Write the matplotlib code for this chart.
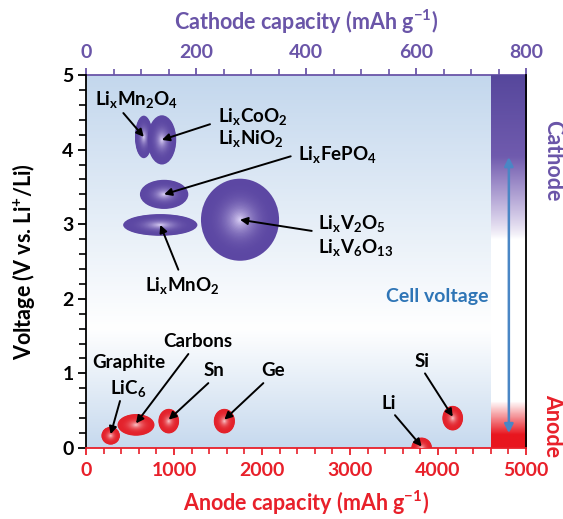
import numpy as np
import matplotlib.pyplot as plt
from matplotlib.patches import Ellipse
from matplotlib.colors import to_rgb
from matplotlib.ticker import MultipleLocator

plt.rcParams['font.family'] = ['Lato', 'DejaVu Sans']
plt.rcParams['font.weight'] = 'bold'
plt.rcParams['mathtext.fontset'] = 'custom'
plt.rcParams['mathtext.rm'] = 'Lato:bold'
plt.rcParams['mathtext.it'] = 'Lato:bold'
plt.rcParams['mathtext.bf'] = 'Lato:bold'
plt.rcParams['mathtext.default'] = 'rm'

# ---------------------------------------------------------
# data
# ---------------------------------------------------------
# cathodes: capacity in mAh/g (top axis), voltage in V
cath_names = ['LiMn2O4', 'LiCoO2', 'LiFePO4', 'LiMnO2', 'LiV2O5']
cath_cap = [105, 138, 142, 135, 280]
cath_volt = [4.17, 4.13, 3.40, 2.99, 3.06]
cath_dcap = [32, 52, 88, 135, 142]
cath_dvolt = [0.57, 0.66, 0.39, 0.29, 1.10]

# anodes: capacity in mAh/g (bottom axis), voltage in V
an_names = ['Graphite', 'Carbons', 'Sn', 'Ge', 'Li', 'Si']
an_cap = [280, 568, 940, 1572, 3814, 4167]
an_volt = [0.165, 0.31, 0.36, 0.36, 0.0, 0.40]
an_dcap = [210, 420, 235, 240, 235, 235]
an_dvolt = [0.24, 0.29, 0.33, 0.33, 0.28, 0.33]

# labels: (text, x, y, ha) in anode-axis units
cath_labels = [('Li$_x$Mn$_2$O$_4$', 576, 4.60, 'center'),
               ('Li$_x$CoO$_2$', 1504, 4.37, 'left'),
               ('Li$_x$NiO$_2$', 1504, 4.08, 'left'),
               ('Li$_x$FePO$_4$', 2413, 3.86, 'left'),
               ('Li$_x$MnO$_2$', 1094, 2.10, 'center'),
               ('Li$_x$V$_2$O$_5$', 2640, 2.94, 'left'),
               ('Li$_x$V$_6$O$_{13}$', 2640, 2.61, 'left')]
# arrow tails for each cathode (same order as cath_names)
cath_tail_x = [424, 1409, 2326, 1049, 2565]
cath_tail_y = [4.49, 4.34, 3.91, 2.39, 2.91]

an_labels = [('Graphite', 489, 1.07), ('LiC$_6$', 481, 0.72),
             ('Carbons', 1265, 1.35), ('Sn', 1458, 0.97),
             ('Ge', 2129, 0.97), ('Li', 3443, 0.52), ('Si', 3814, 1.08)]
an_tail_x = [386, 1163, 1390, 2015, 3511, 3852]
an_tail_y = [0.63, 1.26, 0.87, 0.87, 0.44, 1.00]

scale = 5000 / 800  # anode units per cathode unit

purple = '#6a55a8'
red = '#e8202a'
blue = '#2e75b6'
fw = 'bold'


def shaded_ellipse(ax, x, y, w, h, base, light, n=30):
    b = np.array(to_rgb(base))
    l = np.array(to_rgb(light))
    for i in range(n):
        s = 1 - i / n
        t = (1 - s) ** 2.8
        c = b * (1 - t) + l * t
        ax.add_patch(Ellipse((x, y), w * s, h * s, facecolor=c,
                             edgecolor='none', zorder=3))


fig = plt.figure(figsize=(5.63, 5.19), dpi=100)
ax = fig.add_axes([0.1528, 0.1368, 0.7815, 0.7187])
ax.set_xlim(0, 5000)
ax.set_ylim(0, 5)

# background gradient
yy = np.linspace(0, 5, 300)
top_c = np.array(to_rgb('#c3d7ed'))
white = np.ones(3)
bg = np.zeros((300, 1, 3))
for i, v in enumerate(yy):
    if v > 1.6:
        t = (v - 1.6) / 3.4
    else:
        t = (1.6 - v) / 1.6 * 0.95
    bg[i, 0] = white * (1 - t) + top_c * t
ax.imshow(bg, extent=[0, 5000, 0, 5], origin='lower', aspect='auto', zorder=0)

# right bar: cathode (purple) and anode (red) bands
bar = np.ones((300, 1, 4))
pc_top = np.array(to_rgb('#56479c'))
pc_bot = np.array(to_rgb('#8a6fc0'))
rc = np.array(to_rgb('#e8161f'))
for i, v in enumerate(yy):
    if v >= 2.8:
        a = np.clip((v - 2.8) / 1.1, 0, 1) ** 0.8
        c = pc_bot * (1 - (v - 2.8) / 2.2) + pc_top * ((v - 2.8) / 2.2)
        bar[i, 0, :3] = white * (1 - a) + c * a
    elif v <= 0.62:
        a = np.clip((0.62 - v) / 0.45, 0, 1)
        bar[i, 0, :3] = white * (1 - a) + rc * a
ax.imshow(bar, extent=[4600, 5000, 0, 5], origin='lower', aspect='auto', zorder=1)

for x, y, w, h in zip(cath_cap, cath_volt, cath_dcap, cath_dvolt):
    shaded_ellipse(ax, x * scale, y, w * scale, h, '#5c47a3', '#e2d8fa')
for x, y, w, h in zip(an_cap, an_volt, an_dcap, an_dvolt):
    shaded_ellipse(ax, x, y, w, h, '#e3222b', '#fbd0d3')

arr = dict(arrowstyle='-|>', color='k', lw=1.4, mutation_scale=11,
           shrinkA=0, shrinkB=0)
for x, y, tx, ty in zip(cath_cap, cath_volt, cath_tail_x, cath_tail_y):
    ax.annotate('', xy=(x * scale, y), xytext=(tx, ty), arrowprops=arr, zorder=4)
for x, y, tx, ty in zip(an_cap, an_volt, an_tail_x, an_tail_y):
    ax.annotate('', xy=(x, y + 0.02), xytext=(tx, ty), arrowprops=arr, zorder=4)

for s, x, y, ha in cath_labels:
    ax.text(x, y, s, ha=ha, va='baseline', fontsize=13.5, fontweight=fw,
            zorder=5)
for s, x, y in an_labels:
    ax.text(x, y, s, ha='center', va='baseline', fontsize=13.5, fontweight=fw,
            zorder=5)

# cell voltage arrow
ax.annotate('', xy=(4805, 3.9), xytext=(4805, 0.2),
            arrowprops=dict(arrowstyle='<|-|>', color='#4a86c5', lw=1.8,
                            mutation_scale=13, shrinkA=0, shrinkB=0), zorder=4)
ax.text(3994, 1.96, 'Cell voltage', color=blue, fontsize=14, ha='center',
        va='baseline', fontweight=fw, zorder=5)

# axes styling
ax.spines['bottom'].set_color(red)
ax.spines['top'].set_visible(False)
ax.spines['left'].set_color('k')
ax.spines['right'].set_color('k')
for sp in ax.spines.values():
    sp.set_linewidth(1.3)
ax.xaxis.set_major_locator(MultipleLocator(1000))
ax.xaxis.set_minor_locator(MultipleLocator(200))
ax.yaxis.set_major_locator(MultipleLocator(1))
ax.yaxis.set_minor_locator(MultipleLocator(0.2))
ax.tick_params(axis='x', colors=red, labelsize=14, length=5, width=1.3,
               pad=5)
ax.tick_params(axis='x', which='minor', colors=red, length=4, width=1.2)
ax.tick_params(axis='y', labelsize=14, length=6, width=1.3, pad=3)
ax.tick_params(axis='y', which='minor', length=5, width=1.2)
for lab in ax.get_xticklabels() + ax.get_yticklabels():
    lab.set_fontweight(fw)
ax.set_xlabel('Anode capacity (mAh g$^{-1}$)', color=red, fontsize=15.5,
              fontweight=fw, labelpad=7)
ax.set_ylabel('Voltage (V vs. Li$^{+}$/Li)', fontsize=15.5, fontweight=fw,
              labelpad=18)

sec = ax.secondary_xaxis('top', functions=(lambda v: v / scale,
                                            lambda v: v * scale))
sec.set_xticks([0, 200, 400, 600, 800])
sec.xaxis.set_minor_locator(MultipleLocator(50))
sec.spines['top'].set_color(purple)
sec.spines['top'].set_linewidth(1.3)
sec.tick_params(axis='x', colors=purple, labelsize=14, length=5, width=1.3,
                pad=5)
sec.tick_params(axis='x', which='minor', colors=purple, length=4, width=1.2)
for lab in sec.get_xticklabels():
    lab.set_fontweight(fw)
sec.set_xlabel('Cathode capacity (mAh g$^{-1}$)', color=purple, fontsize=15.5,
               fontweight=fw, labelpad=10)

fig.text(0.982, 0.69, 'Cathode', color=purple, fontsize=15.5, rotation=-90,
         ha='center', va='center', fontweight=fw)
fig.text(0.982, 0.18, 'Anode', color=red, fontsize=15.5, rotation=-90,
         ha='center', va='center', fontweight=fw)

fig.savefig('out.png', dpi=100)
